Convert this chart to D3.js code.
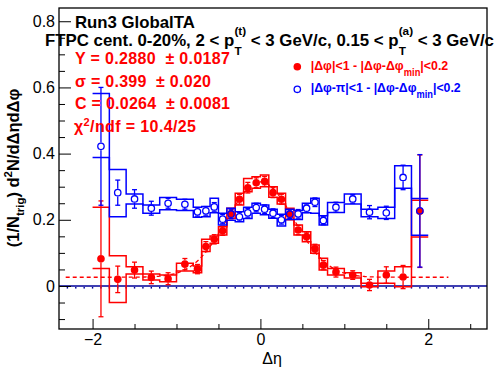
<!DOCTYPE html>
<html>
<head>
<meta charset="utf-8">
<script src="https://cdn.jsdelivr.net/npm/d3@7"></script>
<style>
body { margin: 0; background: #fff; }
text { font-family: "Liberation Sans", Arial, Helvetica, sans-serif; white-space: pre; }
</style>
</head>
<body>
<svg id="chart" width="496" height="374"></svg>
<script>
// bin edges in delta-eta (wide bins on the sides, 0.1 in the middle)
var etaEdges = [-2.0, -1.8, -1.6, -1.4, -1.2, -1.0, -0.8, -0.7, -0.6, -0.5, -0.4, -0.3, -0.2, -0.1, 0.0,
                0.1, 0.2, 0.3, 0.4, 0.5, 0.6, 0.7, 0.8, 1.0, 1.2, 1.4, 1.6, 1.8, 2.0];

// near side  |dphi|<1 (red, filled)
var nearVals  = [0.082, 0.020, 0.048, 0.026, 0.022, 0.066, 0.051, 0.119, 0.141, 0.167, 0.218, 0.262, 0.297, 0.312,
                 0.316, 0.282, 0.262, 0.217, 0.169, 0.149, 0.112, 0.063, 0.042, 0.033, 0.003, 0.033, 0.027, 0.226];
var nearErr   = [0.175, 0.040, 0.024, 0.019, 0.018, 0.017, 0.014, 0.015, 0.014, 0.014, 0.015, 0.015, 0.016, 0.015,
                 0.015, 0.015, 0.015, 0.015, 0.014, 0.014, 0.014, 0.014, 0.015, 0.013, 0.017, 0.025, 0.035, 0.170];
var nearSysHi = [0.238, 0.091, 0.058, 0.036, 0.033, 0.069, 0.060, 0.141, 0.151, 0.179, 0.235, 0.280, 0.325, 0.330,
                 0.335, 0.300, 0.280, 0.235, 0.184, 0.164, 0.124, 0.084, 0.053, 0.040, 0.008, 0.045, 0.058, 0.259];
var nearSysLo = [0.053, -0.050, 0.036, 0.018, 0.013, 0.045, 0.040, 0.104, 0.129, 0.154, 0.205, 0.245, 0.285, 0.295,
                 0.300, 0.268, 0.248, 0.200, 0.154, 0.134, 0.099, 0.048, 0.033, 0.024, -0.002, 0.008, -0.002, 0.148];

// away side  |dphi-pi|<1 (blue, open)
var awayVals  = [0.422, 0.282, 0.263, 0.235, 0.250, 0.247, 0.224, 0.227, 0.239, 0.202, 0.217, 0.209, 0.221, 0.237,
                 0.232, 0.220, 0.200, 0.217, 0.218, 0.235, 0.253, 0.198, 0.238, 0.263, 0.223, 0.221, 0.328, 0.227];
var awayErr   = [0.178, 0.038, 0.028, 0.021, 0.015, 0.015, 0.013, 0.013, 0.013, 0.014, 0.013, 0.013, 0.013, 0.013,
                 0.013, 0.013, 0.013, 0.013, 0.013, 0.013, 0.013, 0.013, 0.015, 0.013, 0.020, 0.020, 0.037, 0.170];
var awaySysHi = [0.582, 0.352, 0.278, 0.245, 0.267, 0.262, 0.238, 0.240, 0.265, 0.220, 0.235, 0.224, 0.238, 0.250,
                 0.245, 0.232, 0.217, 0.232, 0.228, 0.250, 0.265, 0.212, 0.252, 0.278, 0.232, 0.238, 0.363, 0.264];
var awaySysLo = [0.388, 0.209, 0.248, 0.220, 0.230, 0.228, 0.208, 0.209, 0.221, 0.184, 0.199, 0.194, 0.204, 0.220,
                 0.215, 0.205, 0.181, 0.201, 0.201, 0.221, 0.220, 0.184, 0.222, 0.248, 0.209, 0.204, 0.295, 0.153];

// gaus + const fit of the near side: Y, sigma, C
var fitPars = [0.2880, 0.399, 0.0264];
var fitRange = [-2.32, 2.24];

var xTicks = [-2, 0, 2];
var xMinorTicks = [-1.5, -1, -0.5, 0.5, 1, 1.5, 2.5];
var yTicks = [0, 0.2, 0.4, 0.6, 0.8];
var yMinorTicks = [-0.1, -0.05, 0.05, 0.1, 0.15, 0.25, 0.3, 0.35, 0.45, 0.5, 0.55, 0.65, 0.7, 0.75];

var RED = '#ff0000', BLUE = '#0000ff', NAVY = '#000099';

var svg = d3.select('#chart');
var x = d3.scaleLinear().domain([-2.4, 2.7]).range([59, 487]);
var y = d3.scaleLinear().domain([-0.13, 0.84]).range([329, 8]);

var etaC = etaEdges.slice(0, -1).map(function(e, i) { return (e + etaEdges[i + 1]) / 2 });

// zero line with the little dots under it
svg.append('line')
    .attr('x1', x.range()[0]).attr('x2', x.range()[1])
    .attr('y1', y(0)).attr('y2', y(0))
    .attr('stroke', NAVY).attr('stroke-width', 1.6);
svg.selectAll('rect.zdot').data(d3.range(-23, 27).map(function(i) { return i / 10 })).enter()
    .append('rect').attr('class', 'zdot')
    .attr('x', function(d) { return x(d) - 0.7 })
    .attr('y', y(0) + 1)
    .attr('width', 1.4).attr('height', 1.6)
    .attr('fill', NAVY);

// fit curve
var fitLine = d3.line()
    .x(function(d) { return x(d) })
    .y(function(d) {
        var s = fitPars[1];
        return y(fitPars[2] + fitPars[0] / (Math.sqrt(2 * Math.PI) * s) * Math.exp(-d * d / (2 * s * s)));
    });
svg.append('path')
    .attr('d', fitLine(d3.range(fitRange[0], fitRange[1] + 1e-6, 0.01)))
    .attr('fill', 'none').attr('stroke', RED).attr('stroke-width', 1.3)
    .attr('stroke-dasharray', '4,3');

var stepLine = d3.line().x(function(d) { return x(d[0]) }).y(function(d) { return y(d[1]) });
function steps(vals) {
    var pts = [];
    vals.forEach(function(v, i) { pts.push([etaEdges[i], v]); pts.push([etaEdges[i + 1], v]); });
    return pts;
}

function drawSeries(vals, errs, lo, hi, color, filled) {
    var g = svg.append('g');
    [lo, hi].forEach(function(arr) {
        g.append('path').attr('d', stepLine(steps(arr)))
            .attr('fill', 'none').attr('stroke', color).attr('stroke-width', 1.5);
    });
    var r = 3.8;
    var pts = vals.map(function(v, i) { return { x: etaC[i], v: v, e: errs[i] } });
    var eb = g.selectAll('g.eb').data(pts).enter().append('g');
    // error bar, with a gap where the marker sits
    eb.append('line')
        .attr('x1', function(d) { return x(d.x) }).attr('x2', function(d) { return x(d.x) })
        .attr('y1', function(d) { return y(d.v + d.e) })
        .attr('y2', function(d) { return Math.max(y(d.v) - r, y(d.v + d.e)) })
        .attr('stroke', color).attr('stroke-width', 1.3);
    eb.append('line')
        .attr('x1', function(d) { return x(d.x) }).attr('x2', function(d) { return x(d.x) })
        .attr('y1', function(d) { return y(d.v - d.e) })
        .attr('y2', function(d) { return Math.min(y(d.v) + r, y(d.v - d.e)) })
        .attr('stroke', color).attr('stroke-width', 1.3);
    [1, -1].forEach(function(sg) {
        eb.append('line')
            .attr('x1', function(d) { return x(d.x) - 2.5 }).attr('x2', function(d) { return x(d.x) + 2.5 })
            .attr('y1', function(d) { return y(d.v + sg * d.e) }).attr('y2', function(d) { return y(d.v + sg * d.e) })
            .attr('stroke', color).attr('stroke-width', 1.3);
    });
    g.selectAll('circle').data(pts).enter().append('circle')
        .attr('cx', function(d) { return x(d.x) })
        .attr('cy', function(d) { return y(d.v) })
        .attr('r', filled ? r : r - 0.6)
        .attr('fill', filled ? color : 'none')
        .attr('stroke', color).attr('stroke-width', filled ? 0 : 1.3);
}

drawSeries(nearVals, nearErr, nearSysLo, nearSysHi, RED, true);
drawSeries(awayVals, awayErr, awaySysLo, awaySysHi, BLUE, false);

// axes (ticks point inward, ROOT style)
svg.append('g').attr('transform', 'translate(0,329)')
    .call(d3.axisBottom(x).tickValues(xTicks).tickSize(-10).tickPadding(5)
        .tickFormat(function(d) { return d === 0 ? '0' : d3.format('d')(d) }));
svg.append('g').attr('transform', 'translate(0,329)')
    .call(d3.axisBottom(x).tickValues(xMinorTicks).tickSize(-5).tickFormat(''));
svg.append('g').attr('transform', 'translate(59,0)')
    .call(d3.axisLeft(y).tickValues(yTicks).tickSize(-12).tickPadding(4)
        .tickFormat(function(d) { return d === 0 ? '0' : d3.format('.1f')(d) }));
svg.append('g').attr('transform', 'translate(59,0)')
    .call(d3.axisLeft(y).tickValues(yMinorTicks).tickSize(-6).tickFormat(''));
svg.selectAll('.domain').remove();
svg.selectAll('.tick line').attr('stroke', '#000').attr('stroke-width', 1);
svg.selectAll('.tick text').attr('font-size', 16).attr('fill', '#000')
    .attr('font-family', '"Liberation Sans", Arial, sans-serif');

svg.append('rect').attr('x', 59).attr('y', 8).attr('width', 428).attr('height', 321)
    .attr('fill', 'none').attr('stroke', '#000').attr('stroke-width', 1.3);

// axis titles
svg.append('text').attr('x', 272).attr('y', 364).attr('text-anchor', 'middle')
    .attr('font-size', 16).text('\u0394\u03b7');

var yt = svg.append('text').attr('transform', 'translate(19,168) rotate(-90)')
    .attr('text-anchor', 'middle').attr('font-size', 16.5).attr('font-weight', 'bold');
yt.append('tspan').text('(1/N');
yt.append('tspan').attr('dy', 5).attr('font-size', 11.5).text('trig');
yt.append('tspan').attr('dy', -5).text(') d');
yt.append('tspan').attr('dy', -7).attr('font-size', 11.5).text('2');
yt.append('tspan').attr('dy', 7).text('N/d\u0394\u03b7d\u0394\u03c6');

// rich text helper: parts placed one after another, 'stack' keeps x for a sub/sup pair;
// optional width stretches the whole line horizontally to match
function richText(x0, y0, size, color, parts, width) {
    var g = svg.append('g');
    var cx = x0, stackW = 0;
    parts.forEach(function(p) {
        if (typeof p === 'string') p = { t: p };
        var t = g.append('text').attr('x', cx).attr('y', y0 + (p.dy || 0))
            .attr('font-size', size * (p.s || 1)).attr('font-weight', 'bold')
            .attr('fill', color).text(p.t);
        var w = t.node().getComputedTextLength();
        if (p.stack) { stackW = w; }
        else { cx += Math.max(w, stackW); stackW = 0; }
    });
    if (width) {
        var k = width / (cx - x0);
        g.attr('transform', 'translate(' + x0 + ',0) scale(' + k + ',1) translate(' + (-x0) + ',0)');
    }
}

richText(75, 28.5, 16.5, '#000', ['Run3 GlobalTA'], 120);
richText(45, 46.5, 16.5, '#000', [
    'FTPC cent. 0-20%, 2 < p', { t: '(t)', s: 0.7, dy: -11.5, stack: true }, { t: 'T', s: 0.7, dy: 9 },
    ' < 3 GeV/c, 0.15 < p', { t: '(a)', s: 0.7, dy: -11.5, stack: true }, { t: 'T', s: 0.7, dy: 9 },
    ' < 3 GeV/c'
], 449);

// fit results
var fitText = [
    { t: 'Y = 0.2880  \u00b1 0.0187', y: 64.3, w: 155 },
    { t: '\u03c3 = 0.399  \u00b1 0.020', y: 86.5, w: 136 },
    { t: 'C = 0.0264  \u00b1 0.0081', y: 109, w: 155 }
];
fitText.forEach(function(d) {
    svg.append('text').attr('x', 75).attr('y', d.y).attr('font-size', 16).attr('font-weight', 'bold')
        .attr('fill', RED).attr('textLength', d.w).text(d.t);
});
var chi = svg.append('text').attr('x', 74).attr('y', 131.5).attr('font-size', 16).attr('font-weight', 'bold')
    .attr('fill', RED).attr('textLength', 122);
chi.append('tspan').text('\u03c7');
chi.append('tspan').attr('dy', -6).attr('font-size', 11).text('2');
chi.append('tspan').attr('dy', 6).text('/ndf = 10.4/25');

// legend
svg.append('circle').attr('cx', 297.3).attr('cy', 66.7).attr('r', 3.8).attr('fill', RED);
svg.append('circle').attr('cx', 297.3).attr('cy', 89.3).attr('r', 3.2).attr('fill', 'none')
    .attr('stroke', BLUE).attr('stroke-width', 1.3);
richText(310.7, 70, 13.5, RED, ['|\u0394\u03c6|<1 - |\u0394\u03c6-\u0394\u03c6', { t: 'min', s: 0.75, dy: 6 }, '|<0.2'], 137.6);
richText(310.7, 92.5, 13.5, BLUE, ['|\u0394\u03c6-\u03c0|<1 - |\u0394\u03c6-\u0394\u03c6', { t: 'min', s: 0.75, dy: 6 }, '|<0.2'], 150);
</script>
</body>
</html>
